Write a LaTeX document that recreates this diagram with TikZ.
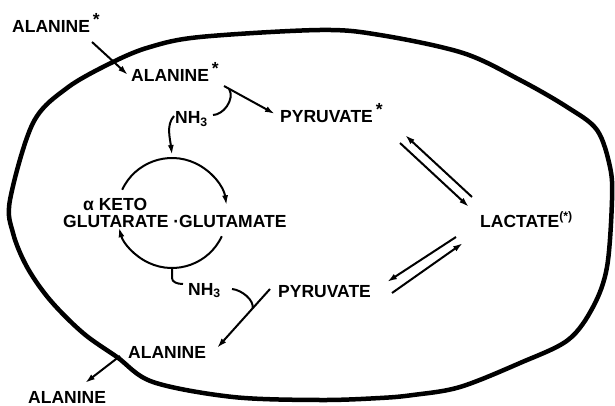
\documentclass[tikz,border=0pt]{standalone}
\usepackage{fontspec}
\setmainfont{Liberation Sans}
\usetikzlibrary{arrows.meta}

\newcommand{\tagged}{\,\raisebox{0.4em}{*}}

\begin{document}
\begin{tikzpicture}[x=1pt, y=1pt, >={Latex[length=10pt,width=6pt]}]
    \tikzstyle{chem} = [font=\fontsize{17.5}{17.5}\selectfont\bfseries, inner sep=0pt,
	anchor=base west]
    \tikzstyle{flow} = [->, line width=2pt]
    \useasboundingbox (0,0) rectangle (615,-406);

    % cell wall
    \draw[line width=4.5pt] plot[smooth cycle, tension=0.55] coordinates {
        (10,-200) (13,-233) (27,-267) (50,-300) (83,-333) (117,-357) (153,-382)
        (233,-397) (320,-400) (380,-398) (413,-395) (460,-387) (520,-363)
        (568,-340) (593,-307) (607,-267) (612,-200) (610,-167) (597,-130)
        (567,-107) (520,-80) (463,-53) (380,-35) (320,-30) (200,-37)
        (150,-47) (113,-62) (67,-88) (33,-123)};

    \path
        node[chem] (alaout) at (12,-33) {ALANINE\tagged}
        node[chem] (alain) at (131,-82) {ALANINE\tagged}
        node[chem] (pyrstar) at (280,-123) {PYRUVATE\tagged}
        node[chem] (nhtop) at (175,-124) {NH\textsubscript{3}}
        node[chem] (keto) at (83,-210) {α KETO}
        node[chem] (glut) at (63,-227) {GLUTARATE ·GLUTAMATE}
        node[chem] (lact) at (480,-227) {LACTATE\textsuperscript{(*)}}
        node[chem] (nhbot) at (188,-295) {NH\textsubscript{3}}
        node[chem] (pyr) at (278,-297) {PYRUVATE}
        node[chem] (alalow) at (128,-358) {ALANINE}
        node[chem] (alaend) at (28,-403) {ALANINE}
        coordinate (cc) at (172,-213)
        ;

    % uptake and release
    \draw[flow] ([shift={(80,-9)}]alaout.base west) -- ([shift={(-3,7)}]alain.base west);
    \draw[flow] ([shift={(-8,2)}]alalow.base west) -- ([shift={(57,20)}]alaend.base west);

    % transamination
    \draw[flow] ([shift={(93,-4)}]alain.base west) -- coordinate[pos=0.1] (nhout)
        ([shift={(-5,9)}]pyrstar.base west);
    \draw[line width=2pt] (nhout) .. controls +(6,-11) and +(10,0) ..
        ([shift={(38,9)}]nhtop.base west);
    \draw[flow] ([shift={(-1,8)}]nhtop.base west) .. controls +(-8,-9) and +(-2,17) ..
        ([shift={(90:58)}]cc);
    \draw[flow] ([shift={(155:55)}]cc) arc[start angle=155, end angle=8, radius=55];
    \draw[flow] ([shift={(-25:55)}]cc) arc[start angle=-25, end angle=-165, radius=55];
    \draw[line width=2pt] ([shift={(-90:55)}]cc) -- ++(0,-10)
        .. controls +(0,-4) and +(-6,0) .. ([shift={(-5,11)}]nhbot.base west);
    \draw[flow] ([shift={(-8,8)}]pyr.base west) -- coordinate[pos=0.33] (nhin)
        ([shift={(89,10)}]alalow.base west);
    \draw[line width=2pt] ([shift={(44,6)}]nhbot.base west) .. controls +(10,-1) and +(2,8) ..
        (nhin);

    % pyruvate <-> lactate
    \draw[flow] ([shift={(-8,30)}]lact.base west) -- ([shift={(125,-12)}]pyrstar.base west);
    \draw[flow] ([shift={(-80,84)}]lact.base west) -- ([shift={(-11,20)}]lact.base west);
    \draw[flow] ([shift={(-24,-10)}]lact.base west) -- ([shift={(109,15)}]pyr.base west);
    \draw[flow] ([shift={(114,4)}]pyr.base west) -- ([shift={(-17,-16)}]lact.base west);

\end{tikzpicture}
\end{document}
